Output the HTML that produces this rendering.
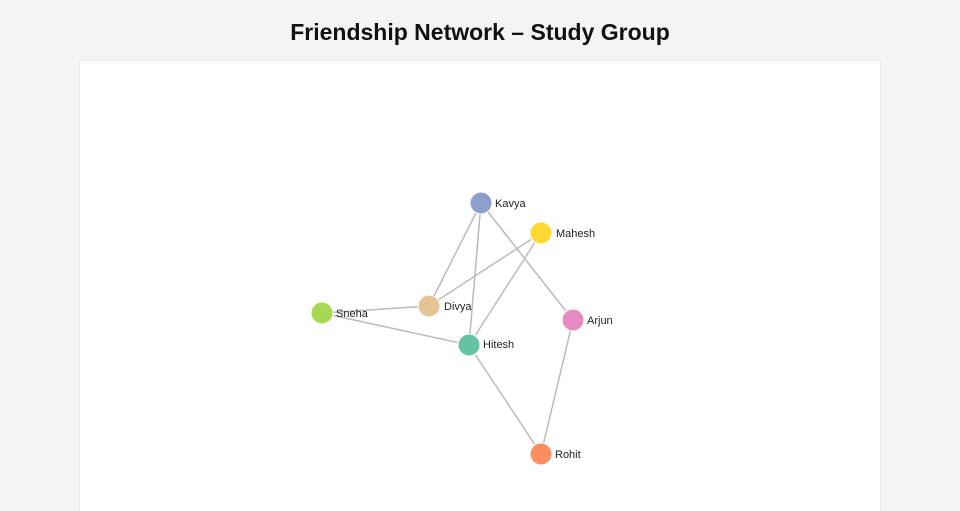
<!DOCTYPE html>
<html><head><meta charset="utf-8"><style>
html,body{margin:0;padding:0;width:960px;height:500px;background:#f4f4f4;overflow:hidden;font-family:"Liberation Sans",sans-serif}
h1{position:absolute;top:0;left:0;width:960px;margin:0;text-align:center;font-size:23px;line-height:64px;font-weight:bold;color:#111;letter-spacing:0px}
.panel{position:absolute;left:80px;top:61px;width:800px;height:450px;background:#fff;box-shadow:0 0 3px rgba(0,0,0,0.08)}
svg{position:absolute;left:0;top:0}
</style></head><body>
<h1>Friendship Network – Study Group</h1>
<div class="panel"></div>
<svg width="960" height="500">
<g stroke="#bbb" stroke-width="1.5">
<line x1="481" y1="203" x2="429" y2="306"/>
<line x1="481" y1="203" x2="469" y2="345"/>
<line x1="481" y1="203" x2="573" y2="320"/>
<line x1="541" y1="233" x2="429" y2="306"/>
<line x1="541" y1="233" x2="469" y2="345"/>
<line x1="322" y1="313" x2="429" y2="306"/>
<line x1="322" y1="313" x2="469" y2="345"/>
<line x1="469" y1="345" x2="541" y2="454"/>
<line x1="573" y1="320" x2="541" y2="454"/>
</g>
<g stroke="#fff" stroke-width="1">
<circle cx="481" cy="203" r="11" fill="#8da0cb"/>
<circle cx="541" cy="233" r="11" fill="#ffd92f"/>
<circle cx="429" cy="306" r="11" fill="#e5c494"/>
<circle cx="322" cy="313" r="11" fill="#a6d854"/>
<circle cx="469" cy="345" r="11" fill="#66c2a5"/>
<circle cx="573" cy="320" r="11" fill="#e78ac3"/>
<circle cx="541" cy="454" r="11" fill="#fc8d62"/>
</g>
<g font-family="Liberation Sans, sans-serif" font-size="11" fill="#222" dominant-baseline="central">
<text x="495" y="204">Kavya</text>
<text x="556" y="234">Mahesh</text>
<text x="444" y="307">Divya</text>
<text x="336" y="314">Sneha</text>
<text x="483" y="345">Hitesh</text>
<text x="587" y="321">Arjun</text>
<text x="555" y="455">Rohit</text>
</g>
</svg>
</body></html>
